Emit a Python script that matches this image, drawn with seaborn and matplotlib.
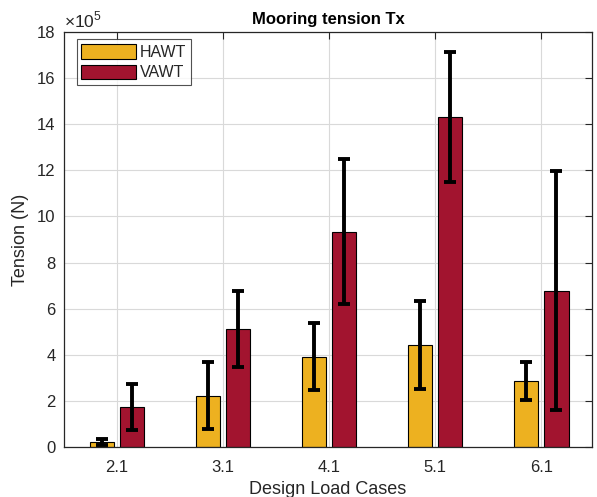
import matplotlib
matplotlib.use("Agg")
import matplotlib.pyplot as plt
import seaborn as sns
import numpy as np
import pandas as pd

# Data (values in units of 1e5 N)
cases = ["2.1", "3.1", "4.1", "5.1", "6.1"]
hawt_mean = [0.21, 2.23, 3.92, 4.43, 2.88]
hawt_low = [0.09, 0.77, 2.46, 2.52, 2.04]
hawt_high = [0.36, 3.70, 5.40, 6.33, 3.70]
vawt_mean = [1.75, 5.11, 9.34, 14.30, 6.78]
vawt_low = [0.75, 3.45, 6.21, 11.48, 1.59]
vawt_high = [2.73, 6.78, 12.49, 17.15, 11.98]
series = ["HAWT", "VAWT"]
colors = ["#EDB120", "#A2142F"]
yticks = [0, 2, 4, 6, 8, 10, 12, 14, 16, 18]

df = pd.DataFrame({
    "case": cases * 2,
    "turbine": ["HAWT"] * len(cases) + ["VAWT"] * len(cases),
    "value": hawt_mean + vawt_mean,
})

sns.set_theme(style="white")
plt.rcParams["font.family"] = ["Liberation Sans", "DejaVu Sans"]
plt.rcParams["mathtext.fontset"] = "custom"
plt.rcParams["mathtext.rm"] = "Liberation Sans"

fig = plt.figure(figsize=(5.97, 4.97), dpi=100)
ax = fig.add_axes([0.107, 0.1006, 0.885, 0.835])

sns.barplot(data=df, x="case", y="value", hue="turbine", order=cases,
            hue_order=series, palette=colors, width=0.571, gap=0.2,
            edgecolor="black", linewidth=0.8, errorbar=None, ax=ax,
            saturation=1.0, zorder=2)

# error bars at bar centers
lows = [hawt_low, vawt_low]
highs = [hawt_high, vawt_high]
means = [hawt_mean, vawt_mean]
for cont, m, lo, hi in zip(ax.containers, means, lows, highs):
    xs = [p.get_x() + p.get_width() / 2 for p in cont.patches]
    m = np.array(m); lo = np.array(lo); hi = np.array(hi)
    ax.errorbar(xs, m, yerr=[m - lo, hi - m], fmt="none", ecolor="black",
                elinewidth=2.8, capsize=4.0, capthick=2.8, zorder=3)

ax.set_xlim(-0.5, 4.48)
ax.set_ylim(0, 18)
ax.set_yticks(yticks)
ax.set_yticklabels([str(t) for t in yticks])

ax.grid(True, color="#d9d9d9", linewidth=0.8, zorder=0)
ax.set_axisbelow(True)
for s in ax.spines.values():
    s.set_color("#262626")
    s.set_linewidth(0.9)
ax.tick_params(direction="in", length=5, width=0.8, color="#262626",
               top=True, right=True, labelsize=12, labelcolor="#262626")
ax.tick_params(axis="x", pad=9)
ax.tick_params(axis="y", pad=6)

ax.set_xlabel("Design Load Cases", fontsize=13, color="#262626", labelpad=5)
ax.set_ylabel("Tension (N)", fontsize=13, color="#262626", labelpad=6)
ax.set_title("Mooring tension Tx", fontsize=12, fontweight="bold",
             color="black", pad=6)
ax.text(0.0, 1.005, r"$\times10^{5}$", transform=ax.transAxes,
        fontsize=12.5, color="#262626", ha="left", va="bottom")

leg = ax.legend(loc="upper left", bbox_to_anchor=(0.024, 0.982),
                fontsize=11.5, frameon=True, fancybox=False,
                edgecolor="#262626", handlelength=3.4, handleheight=1.0,
                handletextpad=0.25, borderpad=0.3, labelspacing=0.3,
                borderaxespad=0.0)
leg.get_frame().set_linewidth(0.8)
for h in leg.legend_handles:
    h.set_edgecolor("black")
    h.set_linewidth(0.8)

fig.savefig("out.png", dpi=100)
